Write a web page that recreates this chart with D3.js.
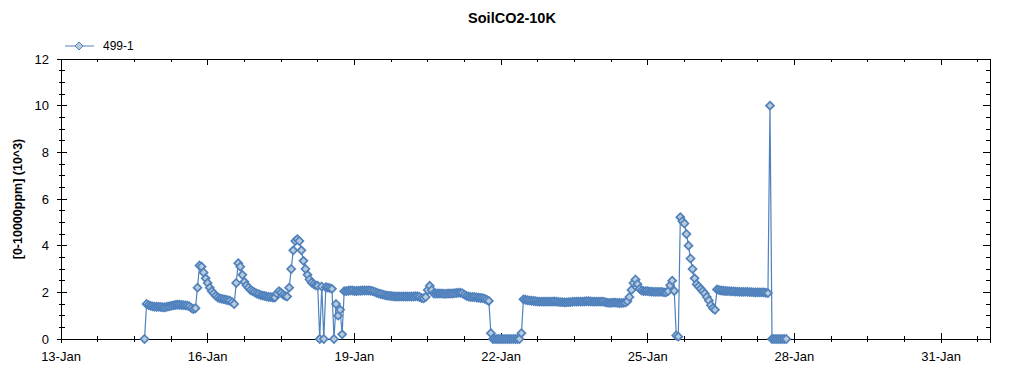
<!DOCTYPE html>
<html>
<head>
<meta charset="utf-8">
<script src="https://cdn.jsdelivr.net/npm/d3@7"></script>
<style>
  body { margin: 0; background: #fff; }
  svg { display: block; font-family: "Liberation Sans", Arial, sans-serif; }
</style>
</head>
<body>
<svg id="chart" width="1024" height="375"></svg>
<script>
// logger series, one reading per hour from the first sample
const seriesName = "499-1";
const firstSample = "2014-01-14 17:00";
const co2 = [
  0, 1.5, 1.45, 1.42, 1.4, 1.38, 1.38,
  1.38, 1.37, 1.36, 1.36, 1.38, 1.4, 1.42, 1.44, 1.46, 1.47, 1.47, 1.46, 1.45, 1.44, 1.43, 1.4, 1.33, 1.28, 1.32, 2.2, 3.15, 3.1, 2.85, 2.6,
  2.4, 2.2, 2.05, 1.95, 1.85, 1.78, 1.74, 1.72, 1.7, 1.68, 1.66, 1.64, 1.58, 1.5, 2.4, 3.25, 3.1, 2.75, 2.45, 2.3, 2.2, 2.1, 2.05, 2.0,
  1.95, 1.92, 1.88, 1.86, 1.84, 1.82, 1.8, 1.8, 1.78, 1.78, 1.95, 2.05, 1.98, 1.9, 1.85, 1.82, 2.2, 3.0, 3.8, 4.2, 4.28, 4.2, 3.8, 3.35,
  3.0, 2.75, 2.55, 2.42, 2.35, 2.3, 2.28, 0, 2.25, 0, 2.22, 2.2, 2.18, 2.15, 0, 1.5, 1.0, 1.25, 0.2, 2.05, 2.05, 2.07, 2.08, 2.08,
  2.06, 2.06, 2.07, 2.07, 2.08, 2.08, 2.08, 2.08, 2.07, 2.05, 2.02, 1.98, 1.95, 1.93, 1.9, 1.88, 1.86, 1.85, 1.84, 1.83, 1.82, 1.82, 1.82, 1.82,
  1.82, 1.82, 1.82, 1.82, 1.82, 1.82, 1.83, 1.83, 1.8, 1.76, 1.74, 1.8, 2.1, 2.28, 2.1, 1.95, 1.95, 1.95, 1.95, 1.95, 1.94, 1.94, 1.95, 1.95,
  1.95, 1.96, 1.97, 1.98, 1.98, 1.96, 1.9, 1.85, 1.82, 1.8, 1.8, 1.8, 1.78, 1.77, 1.76, 1.75, 1.72, 1.68, 1.63, 0.25, 0, 0, 0, 0,
  0, 0, 0, 0, 0, 0, 0, 0, 0, 0, 0.25, 1.7, 1.68, 1.66, 1.65, 1.64, 1.63, 1.62, 1.6, 1.6, 1.6, 1.6, 1.6, 1.6,
  1.6, 1.6, 1.61, 1.6, 1.59, 1.58, 1.58, 1.57, 1.57, 1.58, 1.58, 1.59, 1.6, 1.6, 1.6, 1.6, 1.6, 1.61, 1.62, 1.62, 1.61, 1.6, 1.6, 1.6,
  1.6, 1.6, 1.6, 1.58, 1.56, 1.55, 1.55, 1.56, 1.56, 1.55, 1.54, 1.54, 1.55, 1.56, 1.62, 1.8, 2.1, 2.4, 2.55, 2.35, 2.15, 2.08, 2.05, 2.05,
  2.05, 2.03, 2.03, 2.02, 2.02, 2.02, 2.02, 2.02, 2.0, 2.0, 2.05, 2.3, 2.5, 2.06, 0.15, 0.1, 5.22, 5.05, 4.95, 4.5, 4.0, 3.45, 3.0, 2.6,
  2.35, 2.25, 2.15, 2.05, 1.95, 1.8, 1.65, 1.45, 1.32, 1.25, 2.12, 2.1, 2.08, 2.07, 2.06, 2.05, 2.05, 2.04, 2.04, 2.03, 2.03, 2.02, 2.02, 2.02,
  2.02, 2.02, 2.01, 2.01, 2.0, 2.0, 2.0, 2.0, 2.0, 2.0, 1.98, 1.97, 10.0, 0, 0, 0, 0, 0, 0, 0, 0
];

// axis ranges
const xStart = "2014-01-13";
const xEnd = "2014-02-01";
const yTicks = [0, 2, 4, 6, 8, 10, 12];

const parseTime = d3.timeParse("%Y-%m-%d %H:%M");
const parseDay = d3.timeParse("%Y-%m-%d");
const t0 = parseTime(firstSample);
const data = co2.map((v, i) => ({ t: d3.timeHour.offset(t0, i), v: v }));

const margin = { left: 61, right: 34, top: 59, bottom: 36 };
const W = 1024, H = 375;
const svg = d3.select("#chart");

const x = d3.scaleTime()
  .domain([parseDay(xStart), parseDay(xEnd)])
  .range([margin.left, W - margin.right]);
const y = d3.scaleLinear()
  .domain([0, 12])
  .range([H - margin.bottom, margin.top]);

const lineCol = "#4f81bd";
const fillCol = "#b9cad9";

// tick positions: major every 3 days, 3 minor between
const majorDays = d3.timeDay.every(3).range(parseDay(xStart), d3.timeDay.offset(parseDay(xEnd), 1));
const minorDays = [];
majorDays.forEach(d => {
  [18, 36, 54].forEach(h => {
    const m = d3.timeHour.offset(d, h);
    if (m < x.domain()[1]) minorDays.push(m);
  });
});
const minorY = d3.range(0, 12.01, 0.5).filter(v => v % 2 !== 0);

const axisG = svg.append("g").attr("shape-rendering", "crispEdges")
  .attr("stroke", "#000").attr("stroke-width", 1);

// frame
axisG.append("rect")
  .attr("x", x.range()[0]).attr("y", y.range()[1])
  .attr("width", x.range()[1] - x.range()[0])
  .attr("height", y.range()[0] - y.range()[1])
  .attr("fill", "none");

const x0 = x.range()[0], x1 = x.range()[1], yb = y.range()[0], yt = y.range()[1];

// bottom + top ticks
axisG.selectAll(".xmaj").data(majorDays).join("line")
  .attr("x1", d => x(d)).attr("x2", d => x(d))
  .attr("y1", yb - 6).attr("y2", yb + 4);
axisG.selectAll(".xmin").data(minorDays).join("line")
  .attr("x1", d => x(d)).attr("x2", d => x(d))
  .attr("y1", yb - 3).attr("y2", yb + 3);
axisG.append("g").selectAll("line").data(majorDays).join("line")
  .attr("x1", d => x(d)).attr("x2", d => x(d))
  .attr("y1", yt).attr("y2", yt + 6);
axisG.append("g").selectAll("line").data(minorDays).join("line")
  .attr("x1", d => x(d)).attr("x2", d => x(d))
  .attr("y1", yt).attr("y2", yt + 3);

// left + right ticks
axisG.append("g").selectAll("line").data(yTicks).join("line")
  .attr("x1", x0 - 4).attr("x2", x0 + 6)
  .attr("y1", d => y(d)).attr("y2", d => y(d));
axisG.append("g").selectAll("line").data(minorY).join("line")
  .attr("x1", x0 - 2).attr("x2", x0 + 4)
  .attr("y1", d => y(d)).attr("y2", d => y(d));
axisG.append("g").selectAll("line").data(yTicks).join("line")
  .attr("x1", x1 - 7).attr("x2", x1)
  .attr("y1", d => y(d)).attr("y2", d => y(d));
axisG.append("g").selectAll("line").data(minorY).join("line")
  .attr("x1", x1 - 4).attr("x2", x1)
  .attr("y1", d => y(d)).attr("y2", d => y(d));

// tick labels
const fmt = d3.timeFormat("%d-%b");
svg.append("g").selectAll("text").data(majorDays.filter(d => d < x.domain()[1])).join("text")
  .attr("x", d => x(d)).attr("y", yb + 22)
  .attr("text-anchor", "middle").attr("font-size", 13)
  .text(d => fmt(d));
svg.append("g").selectAll("text").data(yTicks).join("text")
  .attr("x", x0 - 12).attr("y", d => y(d)).attr("dy", "0.36em")
  .attr("text-anchor", "end").attr("font-size", 13)
  .text(d => d);

// titles
svg.append("text")
  .attr("x", 512).attr("y", 23)
  .attr("text-anchor", "middle").attr("font-size", 14.5).attr("font-weight", "bold")
  .text("SoilCO2-10K");
svg.append("text")
  .attr("transform", "translate(22," + ((yt + yb) / 2) + ") rotate(-90)")
  .attr("text-anchor", "middle").attr("font-size", 12.5).attr("font-weight", "bold")
  .text("[0-10000ppm] (10^3)");

// series: markers on top of the line, heavy outline so dense runs read as a band
const diamond = "M0,-4L4,0L0,4L-4,0Z";
const line = d3.line().x(d => x(d.t)).y(d => y(d.v));
svg.append("path").datum(data)
  .attr("d", line).attr("fill", "none")
  .attr("stroke", lineCol).attr("stroke-width", 1.2);
svg.append("g").selectAll("path").data(data).join("path")
  .attr("transform", d => "translate(" + x(d.t) + "," + y(d.v) + ")")
  .attr("d", diamond)
  .attr("fill", fillCol).attr("stroke", lineCol).attr("stroke-width", 1.7);

// legend
const lg = svg.append("g").attr("transform", "translate(65,46)");
lg.append("line").attr("x1", 0).attr("x2", 29).attr("y1", 0).attr("y2", 0)
  .attr("stroke", lineCol).attr("stroke-width", 1);
lg.append("path").attr("d", diamond).attr("transform", "translate(14,0)")
  .attr("fill", fillCol).attr("stroke", lineCol);
lg.append("text").attr("x", 38).attr("y", 0).attr("dy", "0.36em")
  .attr("font-size", 12).text(seriesName);
</script>
</body>
</html>
